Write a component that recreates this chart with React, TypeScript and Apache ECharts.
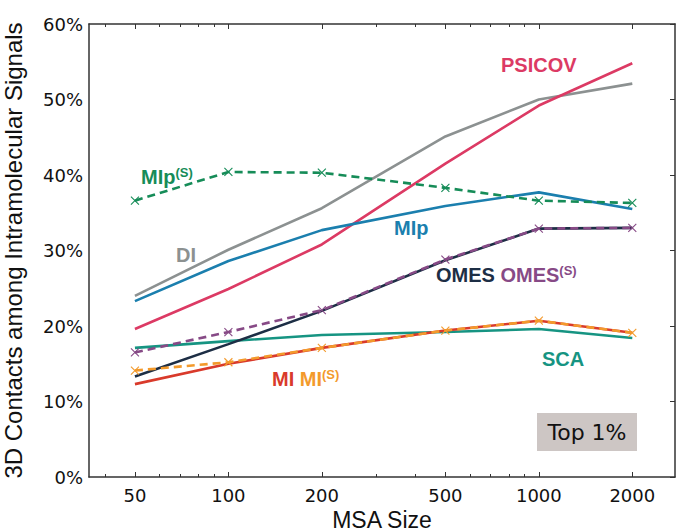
import React, { useEffect, useRef } from "react";
import * as echarts from "echarts";

const sizes = [50, 100, 200, 500, 1000, 2000];
const majorTicks = [50, 100, 200, 500, 1000, 2000];
const minorTicks = [40, 60, 70, 80, 90, 300, 400, 600, 700, 800, 900];

const PSICOV = [19.6, 24.9, 30.8, 41.5, 49.2, 54.8];
const DI = [24.0, 30.1, 35.6, 45.1, 50.0, 52.1];
const MIp = [23.3, 28.6, 32.7, 35.9, 37.7, 35.5];
const MIpS = [36.6, 40.4, 40.3, 38.3, 36.6, 36.3];
const OMES = [13.3, 17.6, 22.0, 28.7, 32.9, 33.0];
const OMESS = [16.5, 19.2, 22.1, 28.8, 32.9, 33.0];
const SCA = [17.1, 18.0, 18.8, 19.2, 19.6, 18.4];
const MI = [12.3, 15.0, 17.1, 19.4, 20.7, 19.1];
const MIS = [14.1, 15.2, 17.1, 19.4, 20.7, 19.1];

const C = {
  psicov: "#dc3a64",
  di: "#8c9191",
  mip: "#1b7fae",
  mips: "#168c58",
  omes: "#1d2e45",
  omess: "#874a86",
  sca: "#169482",
  mi: "#d93a2b",
  mis: "#f39a2c",
};

const XMIN = 1.551;
const XMAX = 3.4386;

const toData = (vals: number[]) => sizes.map((s, i) => [Math.log10(s), vals[i]]);

const cross = "path://M0,0L10,10M10,0L0,10";

function solid(name: string, vals: number[], color: string) {
  return {
    name,
    type: "line",
    data: toData(vals),
    showSymbol: false,
    symbol: "none",
    lineStyle: { color, width: 2.6 },
    itemStyle: { color },
  };
}

function dashed(name: string, vals: number[], color: string) {
  return {
    name,
    type: "line",
    data: toData(vals),
    symbol: cross,
    symbolSize: 8,
    showSymbol: true,
    lineStyle: { color, width: 2.6, type: [8, 5] },
    itemStyle: { color: "rgba(0,0,0,0)", borderColor: color, borderWidth: 1.1 },
  };
}

export default function App() {
  const ref = useRef<HTMLDivElement>(null);
  useEffect(() => {
    if (!ref.current) return;
    const chart = echarts.init(ref.current, null, { renderer: "svg" });
    const lf = "Liberation Sans, Arial, sans-serif";
    const df = "DejaVu Sans, sans-serif";
    const axisLine = { show: true, lineStyle: { color: "#333", width: 1.5 } };
    const xBase = {
      type: "value",
      min: XMIN,
      max: XMAX,
      splitLine: { show: false },
    };
    const labelText = (x: number, y: number, rich: string, richStyles: any) => ({
      type: "text",
      x,
      y,
      style: {
        text: rich,
        rich: richStyles,
        verticalAlign: "middle",
        align: "left",
      },
      z: 100,
    });
    const sup = (color: string) => ({
      fontSize: 13,
      fontWeight: "bold",
      fontFamily: lf,
      fill: color,
      color,
      verticalAlign: "top",
      lineHeight: 22,
      padding: [0, 0, 10, 0],
    });
    const big = (color: string, size = 20) => ({
      fontSize: size,
      fontWeight: "bold",
      fontFamily: lf,
      fill: color,
      color,
      lineHeight: 22,
    });
    const sp = { fontSize: 20, fontFamily: lf, lineHeight: 22 };
    chart.setOption({
      animation: false,
      backgroundColor: "#ffffff",
      grid: {
        left: 89,
        right: 5,
        top: 24,
        bottom: 55,
        containLabel: false,
        outerBoundsMode: "none",
      },
      xAxis: [
        {
          ...xBase,
          position: "bottom",
          name: "MSA Size",
          nameLocation: "middle",
          nameGap: 24,
          nameTextStyle: { fontSize: 23, fontFamily: lf, color: "#111" },
          axisLine,
          axisTick: {
            show: true,
            inside: true,
            length: 5,
            customValues: majorTicks.map((v) => Math.log10(v)),
            lineStyle: { color: "#333", width: 1 },
          },
          axisLabel: {
            customValues: majorTicks.map((v) => Math.log10(v)),
            formatter: (v: number) => String(Math.round(Math.pow(10, v))),
            fontSize: 18,
            fontFamily: df,
            color: "#111",
            margin: 9,
          },
        },
        {
          ...xBase,
          position: "bottom",
          axisLine: { show: false },
          axisLabel: { show: false },
          axisTick: {
            show: true,
            inside: true,
            length: 3,
            customValues: minorTicks.map((v) => Math.log10(v)),
            lineStyle: { color: "#333", width: 1 },
          },
        },
        {
          ...xBase,
          position: "top",
          axisLine,
          axisLabel: { show: false },
          axisTick: {
            show: true,
            inside: true,
            length: 5,
            customValues: majorTicks.map((v) => Math.log10(v)),
            lineStyle: { color: "#333", width: 1 },
          },
        },
        {
          ...xBase,
          position: "top",
          axisLine: { show: false },
          axisLabel: { show: false },
          axisTick: {
            show: true,
            inside: true,
            length: 3,
            customValues: minorTicks.map((v) => Math.log10(v)),
            lineStyle: { color: "#333", width: 1 },
          },
        },
      ],
      yAxis: [
        {
          type: "value",
          position: "left",
          min: 0,
          max: 60,
          interval: 10,
          name: "3D Contacts among Intramolecular Signals",
          nameLocation: "middle",
          nameGap: 64,
          nameTextStyle: { fontSize: 24, fontFamily: lf, color: "#111" },
          axisLine,
          axisTick: { show: false },
          splitLine: { show: false },
          axisLabel: {
            formatter: "{value}%",
            fontSize: 18,
            fontFamily: df,
            color: "#111",
            margin: 6,
          },
        },
        {
          type: "value",
          position: "right",
          min: 0,
          max: 60,
          interval: 10,
          axisLine,
          axisTick: { show: true, inside: true, length: 5, lineStyle: { color: "#333", width: 1 } },
          splitLine: { show: false },
          axisLabel: { show: false },
        },
      ],
      series: [
        solid("DI", DI, C.di),
        solid("PSICOV", PSICOV, C.psicov),
        solid("MIp", MIp, C.mip),
        solid("SCA", SCA, C.sca),
        solid("OMES", OMES, C.omes),
        solid("MI", MI, C.mi),
        dashed("MIp(S)", MIpS, C.mips),
        dashed("OMES(S)", OMESS, C.omess),
        dashed("MI(S)", MIS, C.mis),
      ],
      graphic: [
        labelText(501, 65, "{a|PSICOV}", { a: big(C.psicov) }),
        labelText(141, 177, "{a|MIp}{s|(S)}", { a: big(C.mips), s: sup(C.mips) }),
        labelText(176, 255, "{a|DI}", { a: big(C.di) }),
        labelText(394, 228, "{a|MIp}", { a: big(C.mip) }),
        labelText(436, 275, "{a|OMES}{sp| }{b|OMES}{s|(S)}", {
          a: big(C.omes),
          b: big(C.omess),
          s: sup(C.omess),
          sp,
        }),
        labelText(542, 359, "{a|SCA}", { a: big(C.sca) }),
        labelText(272, 379, "{a|MI}{sp| }{b|MI}{s|(S)}", {
          a: big(C.mi),
          b: big(C.mis),
          s: sup(C.mis),
          sp,
        }),
        {
          type: "rect",
          shape: { x: 537, y: 413, width: 100, height: 38 },
          style: { fill: "#cdc6c4" },
          z: 90,
        },
        {
          type: "text",
          x: 587,
          y: 432,
          style: {
            text: "Top 1%",
            fontSize: 22,
            fontFamily: df,
            fill: "#111",
            align: "center",
            verticalAlign: "middle",
          },
          z: 100,
        },
      ],
    });
    return () => chart.dispose();
  }, []);
  return (
    <div
      ref={ref}
      style={{ position: "fixed", left: 0, top: 0, width: 680, height: 532, background: "#fff" }}
    />
  );
}
